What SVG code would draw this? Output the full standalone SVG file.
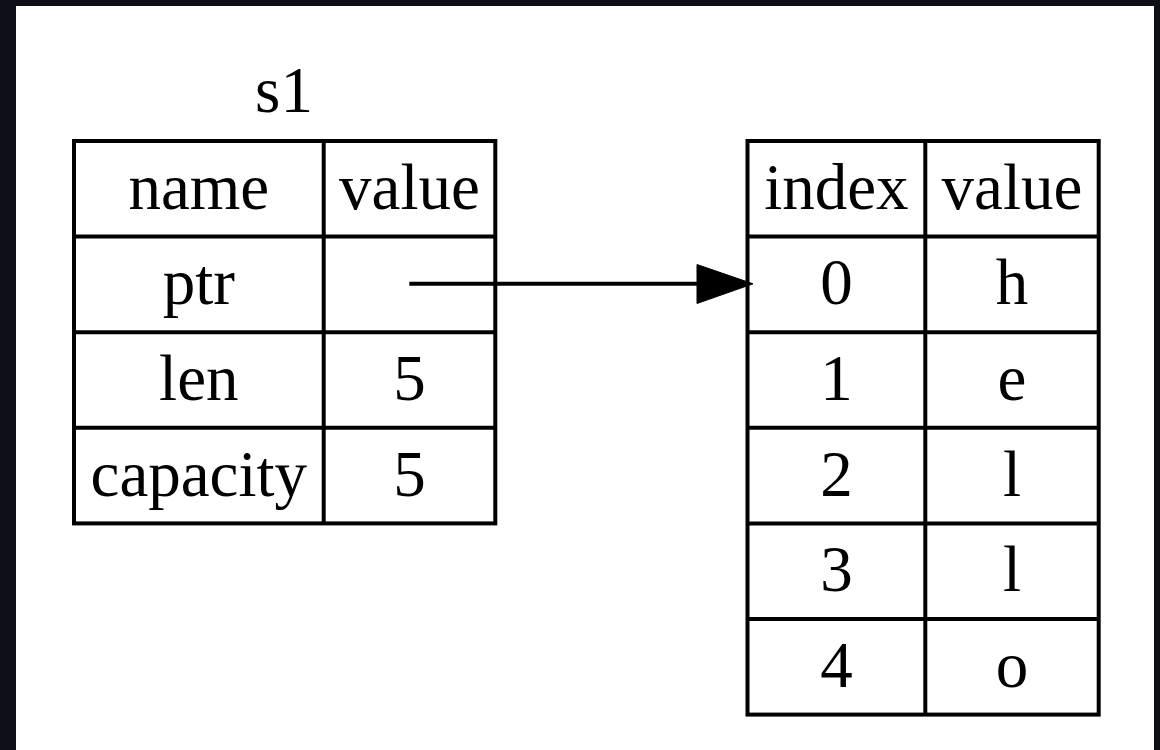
<svg xmlns="http://www.w3.org/2000/svg" width="1160" height="750" viewBox="0 0 1160 750">
<style>
.cell{fill:none;stroke:#000;stroke-width:4}
.t{font-family:"Liberation Serif","Times New Roman",serif;font-size:65px;fill:#000;text-anchor:middle}
.edge{stroke:#000;stroke-width:4;fill:none}
</style>
<rect x="0" y="0" width="1160" height="750" fill="#0d1117"/>
<rect x="16" y="6" width="1138" height="750" fill="#ffffff"/>
<g id="s1">
<text class="t" x="284" y="112">s1</text>
<rect class="cell" x="74" y="141" width="421.3" height="382.4"/>
<line class="cell" x1="323.7" y1="141" x2="323.7" y2="523.4"/>
<line class="cell" x1="74" y1="236.6" x2="495.3" y2="236.6"/>
<line class="cell" x1="74" y1="332.2" x2="495.3" y2="332.2"/>
<line class="cell" x1="74" y1="427.8" x2="495.3" y2="427.8"/>
<text class="t" x="198.8" y="208.8">name</text>
<text class="t" x="409.5" y="208.8">value</text>
<text class="t" x="198.8" y="304.4">ptr</text>
<text class="t" x="198.8" y="400">len</text>
<text class="t" x="409.5" y="400">5</text>
<text class="t" x="198.8" y="495.6">capacity</text>
<text class="t" x="409.5" y="495.6">5</text>
</g>
<g id="heap">
<rect class="cell" x="747.5" y="141" width="351.2" height="573.6"/>
<line class="cell" x1="925.3" y1="141" x2="925.3" y2="714.6"/>
<line class="cell" x1="747.5" y1="236.6" x2="1098.7" y2="236.6"/>
<line class="cell" x1="747.5" y1="332.2" x2="1098.7" y2="332.2"/>
<line class="cell" x1="747.5" y1="427.8" x2="1098.7" y2="427.8"/>
<line class="cell" x1="747.5" y1="523.4" x2="1098.7" y2="523.4"/>
<line class="cell" x1="747.5" y1="619" x2="1098.7" y2="619"/>
<text class="t" x="836.4" y="208.8">index</text>
<text class="t" x="1012" y="208.8">value</text>
<text class="t" x="836.4" y="304.4">0</text>
<text class="t" x="1012" y="304.4">h</text>
<text class="t" x="836.4" y="400">1</text>
<text class="t" x="1012" y="400">e</text>
<text class="t" x="836.4" y="495.6">2</text>
<text class="t" x="1012" y="495.6">l</text>
<text class="t" x="836.4" y="591.2">3</text>
<text class="t" x="1012" y="591.2">l</text>
<text class="t" x="836.4" y="686.8">4</text>
<text class="t" x="1012" y="686.8">o</text>
</g>
<g id="connectors">
<line class="edge" x1="409.3" y1="283.8" x2="700" y2="283.8"/>
<polygon points="697,264.5 753,283.8 697,303.5" fill="#000" stroke="#000" stroke-width="1"/>
</g>
</svg>
